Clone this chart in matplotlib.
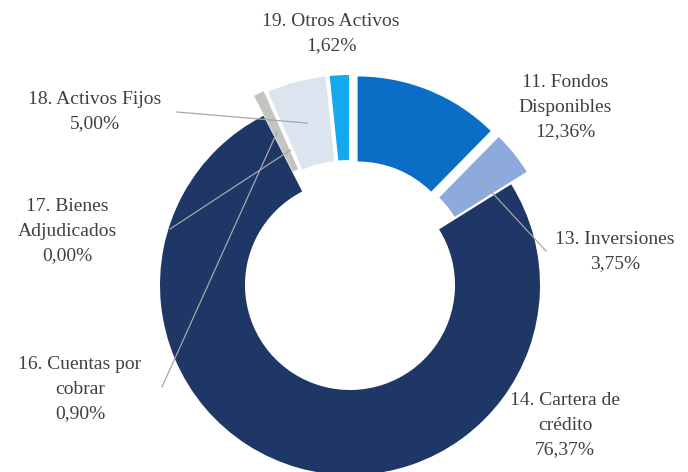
import matplotlib
matplotlib.use("Agg")
import matplotlib.pyplot as plt
import numpy as np

labels = ["11. Fondos\nDisponibles", "13. Inversiones", "14. Cartera de\ncrédito",
          "16. Cuentas por\ncobrar", "17. Bienes\nAdjudicados", "18. Activos Fijos",
          "19. Otros Activos"]
values = [12.36, 3.75, 76.37, 0.90, 0.00, 5.00, 1.62]
colors = ["#0B6EC6", "#8EA9DB", "#1F3767", "#C4C5BF", "#A5A5A5", "#DCE4F0", "#12A9EE"]
# pie's explode is in data units (pixels here)
explode = [20, 20, 0, 22, 0, 20, 20]

W, H = 688, 472
# label centres in pixel coords (top-down)
label_pos = [(565, 107), (615, 252), (565, 425), (80, 389), (67, 231), (95, 112), (331, 34)]
# leader anchors near labels (None = no leader)
leader_start = [None, (546, 251), None, (162, 387), (170, 229), (177, 112), None]

fig = plt.figure(figsize=(W / 100, H / 100), dpi=100)
ax = fig.add_axes([0, 0, 1, 1])

R = 190
wedges, _ = ax.pie(values, radius=R, center=(350, H - 285), startangle=90,
                   counterclock=False, explode=explode, colors=colors,
                   wedgeprops=dict(width=85, edgecolor="none"))

for i, (lab, val) in enumerate(zip(labels, values)):
    txt = lab + "\n" + f"{val:.2f}".replace(".", ",") + "%"
    x, y = label_pos[i]
    ax.text(x, H - y, txt, ha="center", va="center", fontsize=14,
            family="Liberation Serif", color="#404040", linespacing=1.55)
    if leader_start[i] is not None:
        w = wedges[i]
        ang = np.deg2rad((w.theta1 + w.theta2) / 2)
        rm = w.r - w.width / 2
        ex = w.center[0] + rm * np.cos(ang)
        ey = w.center[1] + rm * np.sin(ang)
        sx, sy = leader_start[i]
        ax.plot([sx, ex], [H - sy, ey], color="#A6A6A6", lw=0.9)

ax.set_xlim(0, W)
ax.set_ylim(0, H)
ax.set_aspect("equal")
ax.axis("off")
fig.savefig("out.png", dpi=100)
